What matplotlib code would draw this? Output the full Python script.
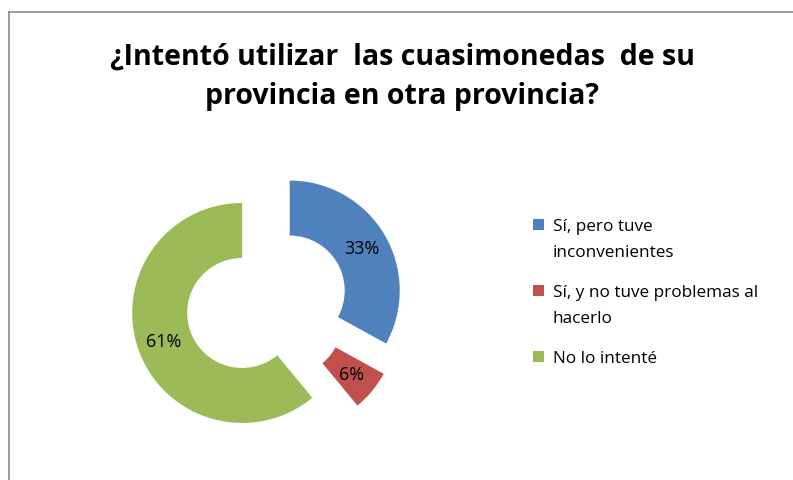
import matplotlib.pyplot as plt
from matplotlib.lines import Line2D
from matplotlib.patches import Rectangle

# Data
labels = ['Sí, pero tuve\ninconvenientes', 'Sí, y no tuve problemas al\nhacerlo', 'No lo intenté']
shares = [33, 6, 61]
colors = ['#4F81BD', '#C0504D', '#9BBB59']
title = '¿Intentó utilizar  las cuasimonedas  de su\nprovincia en otra provincia?'

W, H = 793, 481
fig = plt.figure(figsize=(W / 100, H / 100), dpi=100)
plt.rcParams['font.family'] = ['Open Sans', 'DejaVu Sans']

# donut centre and radius in pixels
cx, cy, R = 267, 305, 110
half = 1.6 * R
ax = fig.add_axes([(cx - half) / W, (H - cy - half) / H, 2 * half / W, 2 * half / H])

wedges, texts, autotexts = ax.pie(
    shares,
    colors=colors,
    startangle=90,
    counterclock=False,
    explode=[0.24] * len(shares),
    radius=1.0,
    wedgeprops=dict(width=0.5, edgecolor='none'),
    autopct='%1.0f%%',
    pctdistance=0.76,
    textprops=dict(fontsize=13, color='black'),
)
ax.set_xlim(-1.6, 1.6)
ax.set_ylim(-1.6, 1.6)
ax.set_aspect('equal')
ax.axis('off')

fig.text(402 / W, 1 - 77 / H, title, ha='center', va='center', fontsize=20.5,
         fontweight='bold', linespacing=1.5)

# legend, drawn by hand so each square sits on the first line of its label
y = 225
for lab, wedge in zip(labels, wedges):
    sq = 11
    fig.patches.append(Rectangle(((538 - sq / 2) / W, 1 - (y + sq / 2) / H), sq / W, sq / H,
                                 transform=fig.transFigure, facecolor=wedge.get_facecolor(),
                                 edgecolor='none'))
    lines = lab.split('\n')
    for i, line in enumerate(lines):
        fig.text(553 / W, 1 - (y + i * 26) / H, line, ha='left', va='center_baseline',
                 fontsize=12.3)
    y += len(lines) * 26 + 14

# chart-area border (only top and left visible)
fig.add_artist(Line2D([8.5 / W, 1], [1 - 13 / H, 1 - 13 / H], color='#8c8c8c', lw=1.2))
fig.add_artist(Line2D([8.5 / W, 8.5 / W], [0, 1 - 13 / H], color='#8c8c8c', lw=1.2))

fig.savefig('out.png', dpi=100)
